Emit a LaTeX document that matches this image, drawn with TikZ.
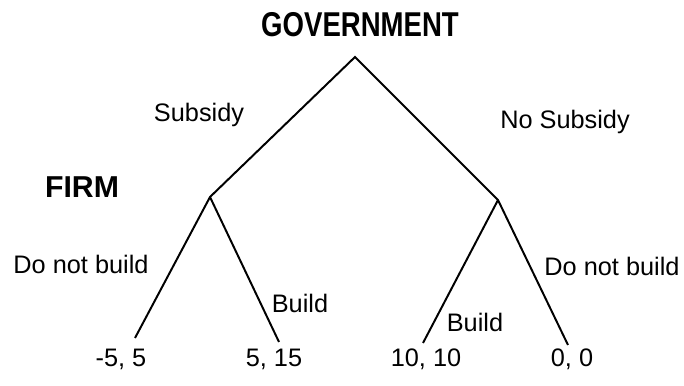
\documentclass[tikz,border=0pt]{standalone}
\usepackage{fontspec}
\setmainfont{Liberation Sans}
\newfontfamily\headfont[FakeStretch=0.8]{Liberation Sans}
\begin{document}
\begin{tikzpicture}[x=0.025cm,y=0.025cm,
    move/.style={font=\fontsize{18}{21}\selectfont,inner sep=0pt},
    player/.style={font=\bfseries\fontsize{21.5}{24}\selectfont,inner sep=0pt},
    payoff/.style={font=\fontsize{18}{21}\selectfont,inner sep=0pt}]
          \useasboundingbox (0,0) rectangle (684,386);
          % tree vertices
          \coordinate (gov) at (355,329);
          \coordinate (firmL) at (210,189);
          \coordinate (firmR) at (498,186);
          \coordinate (endLL) at (135,48);
          \coordinate (endLR) at (279,44);
          \coordinate (endRL) at (423,43);
          \coordinate (endRR) at (568,41);
          \draw [line width=1.4pt] (endLL)--(firmL)--(gov)--(firmR)--(endRR);
          \draw [line width=1.4pt] (firmL)--(endLR);
          \draw [line width=1.4pt] (firmR)--(endRL);
          % players
          \node (govlbl) at (360,361)[player]{\headfont\bfseries\fontsize{24.5}{28}\selectfont GOVERNMENT};
          \node (firmlbl) at (82,199)[player]{FIRM};
          % moves
          \node (sub) at (199,271)[move]{Subsidy};
          \node (nosub) at (565,264)[move]{No Subsidy};
          \node (dnbL) at (81,122)[move]{Do not build};
          \node (bL) at (300,83)[move]{Build};
          \node (bR) at (475,64)[move]{Build};
          \node (dnbR) at (612,120)[move]{Do not build};
          % payoffs
          \node (pLL) at (121,27)[payoff]{-5, 5};
          \node (pLR) at (274,27)[payoff]{5, 15};
          \node (pRL) at (426,27)[payoff]{10, 10};
          \node (pRR) at (572,27)[payoff]{0, 0};
        \end{tikzpicture}
\end{document}
